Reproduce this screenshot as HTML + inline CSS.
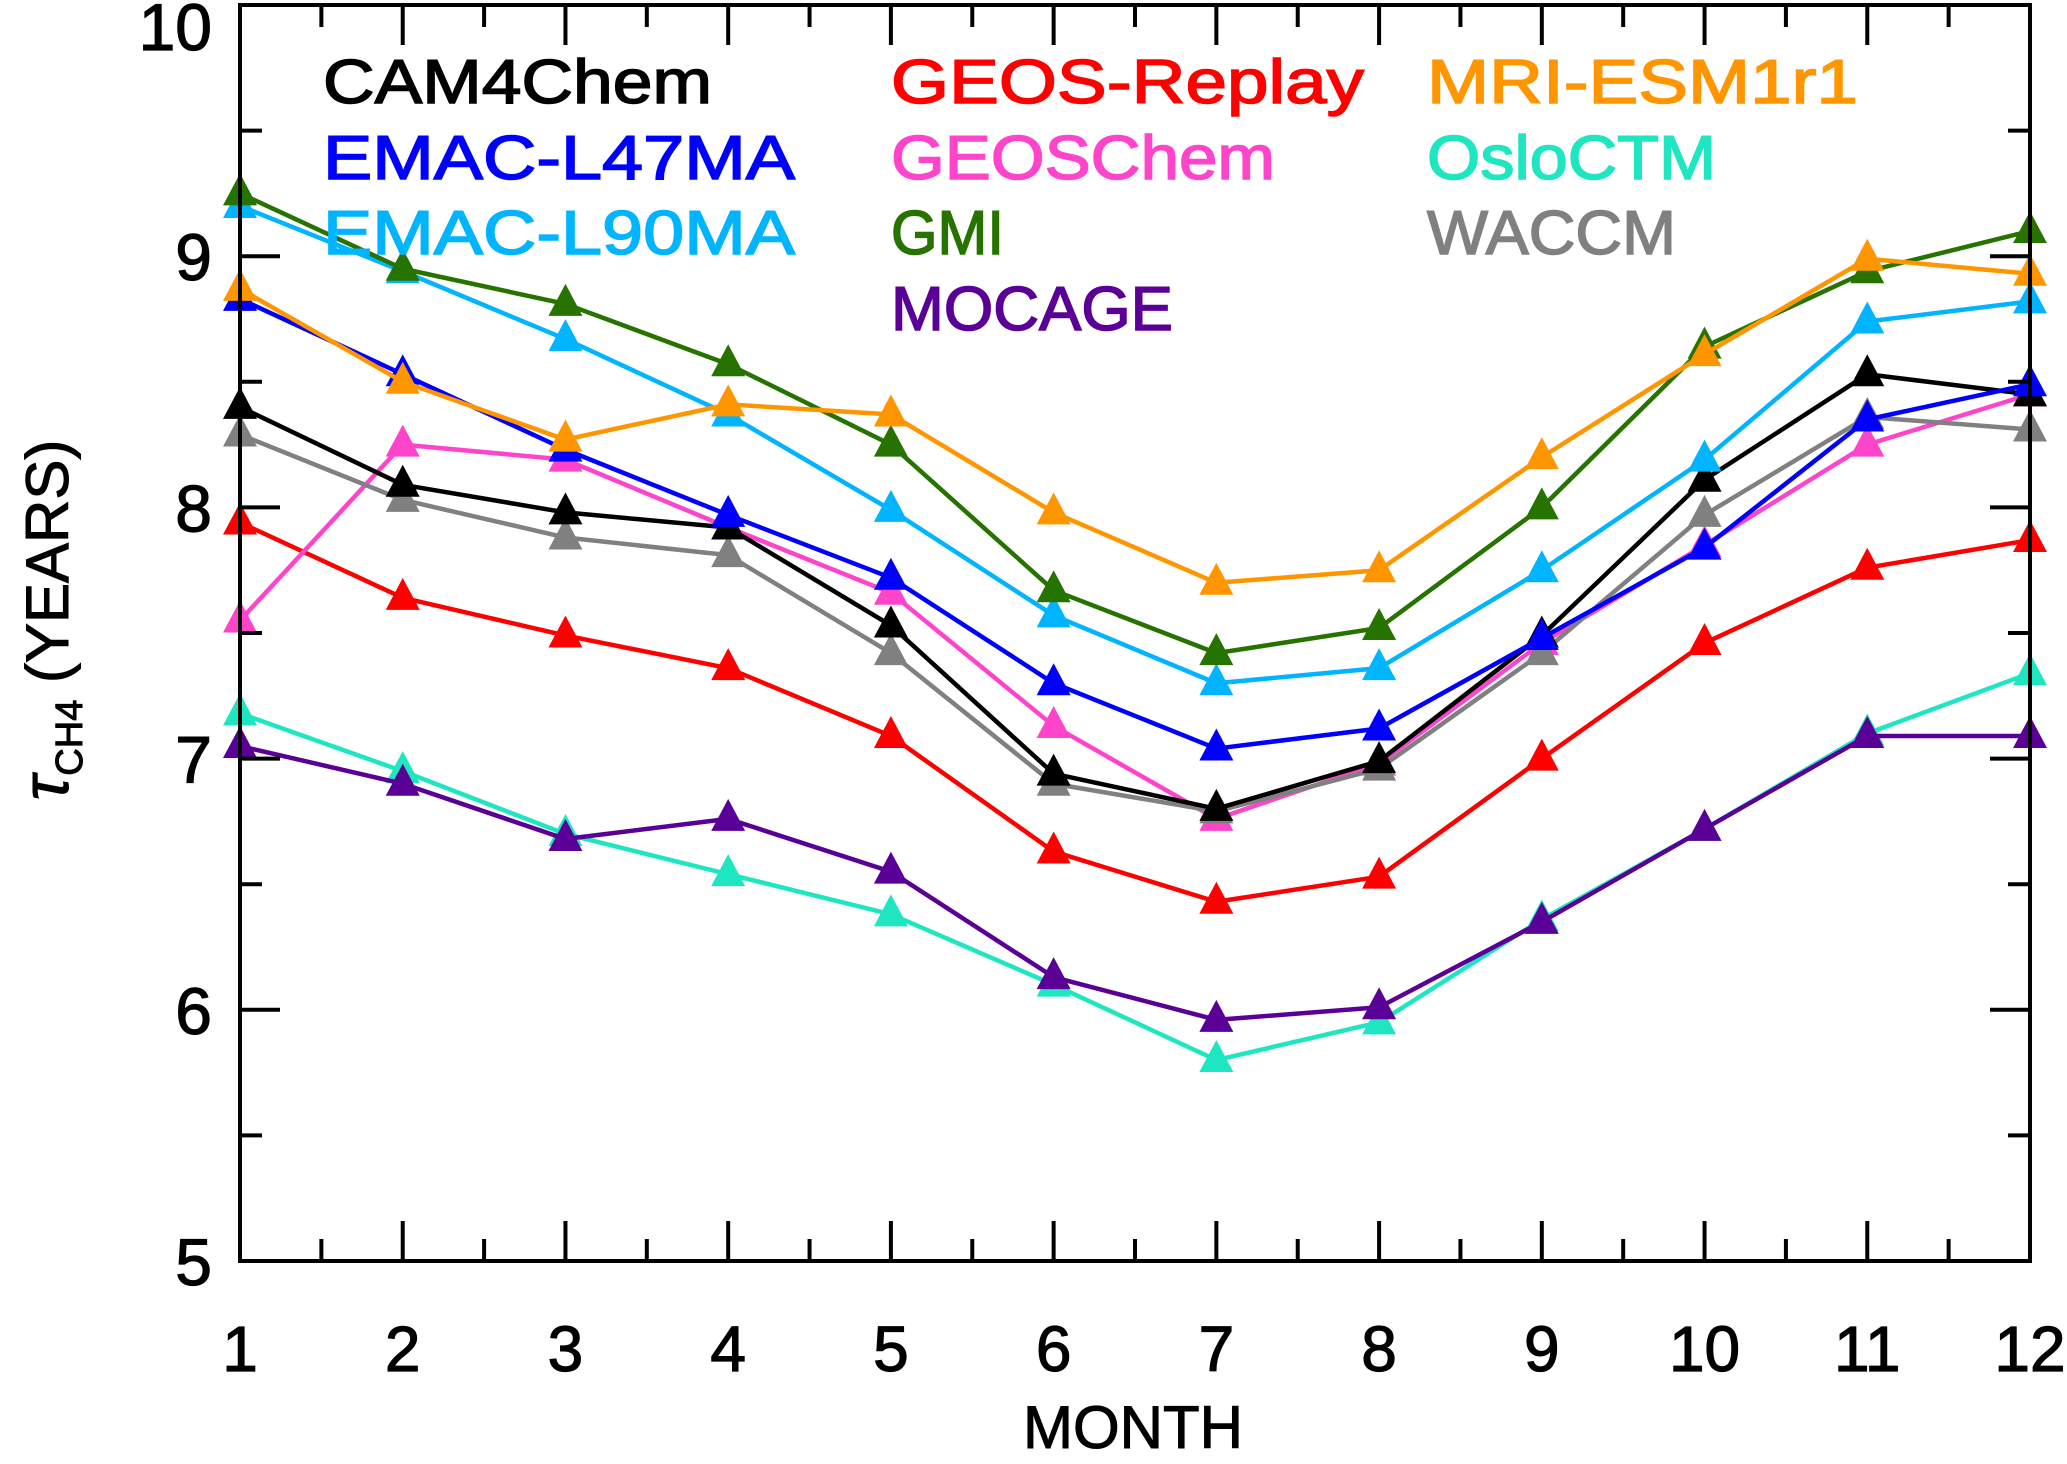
<!DOCTYPE html>
<html><head><meta charset="utf-8"><style>
html,body{margin:0;padding:0;background:#fff;}
svg text{font-family:"Liberation Sans",sans-serif;}
</style></head><body>
<svg id="chart" width="2067" height="1459" viewBox="0 0 2067 1459" xmlns="http://www.w3.org/2000/svg">
<g id="plot"></g>
<g id="axes"></g>
<g id="legend"></g>
</svg>
<script>
const months = [1,2,3,4,5,6,7,8,9,10,11,12];
const yTicks = [5,6,7,8,9,10];
const seriesNames = ["CAM4Chem","EMAC-L47MA","EMAC-L90MA","GEOS-Replay","GEOSChem","GMI","MOCAGE","MRI-ESM1r1","OsloCTM","WACCM"];
const colors = ["#000000","#0000ff","#00b4ff","#ff0000","#ff44cc","#267300","#5a0096","#ff9600","#1ee6c0","#808080"];
const cam4chem = [8.40,8.09,7.98,7.92,7.53,6.94,6.80,6.99,7.49,8.11,8.53,8.45];
const emacL47 = [8.83,8.53,8.23,7.97,7.72,7.30,7.04,7.12,7.48,7.84,8.35,8.49];
const emacL90 = [9.20,8.94,8.67,8.37,7.99,7.57,7.30,7.36,7.75,8.19,8.74,8.82];
const geosReplay = [7.94,7.64,7.49,7.36,7.09,6.63,6.43,6.53,7.00,7.46,7.76,7.87];
const geosChem = [7.55,8.25,8.19,7.92,7.66,7.13,6.76,6.98,7.46,7.85,8.25,8.45];
const gmi = [9.25,8.95,8.81,8.57,8.25,7.67,7.42,7.52,8.00,8.64,8.94,9.10];
const mocage = [7.05,6.90,6.68,6.76,6.55,6.13,5.96,6.01,6.35,6.72,7.09,7.09];
const mri = [8.87,8.50,8.27,8.41,8.37,7.98,7.70,7.75,8.20,8.61,8.99,8.93];
const oslo = [7.18,6.95,6.70,6.54,6.38,6.10,5.80,5.95,6.36,6.72,7.10,7.34];
const waccm = [8.29,8.03,7.88,7.81,7.42,6.90,6.79,6.96,7.42,7.97,8.36,8.31];
const seriesValues = [cam4chem,emacL47,emacL90,geosReplay,geosChem,gmi,mocage,mri,oslo,waccm];
const drawOrder = [8,6,3,4,9,0,1,2,5,7];

const L=240,R=2030,T=5,B=1261;
const xs = m => L + (m-1)*(R-L)/11;
const ys = v => B - (v-5)*(B-T)/5;
const NS="http://www.w3.org/2000/svg";
function mk(tag, attrs, parent){const e=document.createElementNS(NS,tag);for(const k in attrs)e.setAttribute(k,attrs[k]);parent.appendChild(e);return e;}
const plot=document.getElementById('plot'), axes=document.getElementById('axes'), legend=document.getElementById('legend');

drawOrder.forEach(i=>{
  const vals=seriesValues[i];
  const g=mk('g',{},plot);
  
  
  const pts=vals.map((v,j)=>xs(months[j])+','+ys(v)).join(' ');
  const pl=mk('polyline',{points:pts,fill:'none',stroke:colors[i],'stroke-width':4.5,'stroke-linejoin':'round'},g);
  
  
  vals.forEach((v,j)=>{
    const x=xs(months[j]), y=ys(v), s=17;
    const p=mk('polygon',{points:`${x-s},${y+12} ${x+s},${y+12} ${x},${y-20}`,fill:colors[i]},g);
    
    
  });
});

const fr=mk('rect',{x:L,y:T,width:R-L,height:B-T,fill:'none',stroke:'#000','stroke-width':4},axes);


for(let m=1;m<=12;m+=0.5){
  const x=xs(m), len=(m%1===0)?40:22;
  mk('line',{x1:x,y1:B,x2:x,y2:B-len,stroke:'#000','stroke-width':4},axes);
  mk('line',{x1:x,y1:T,x2:x,y2:T+len,stroke:'#000','stroke-width':4},axes);
}
months.forEach(m=>{
  const t=mk('text',{x:xs(m),y:1371,'font-size':64,'text-anchor':'middle',stroke:'#000','stroke-width':1.2},axes);
  t.textContent=m;
  
  
});
for(let v=5;v<=10;v+=0.5){
  const y=ys(v), len=(v%1===0)?40:22;
  mk('line',{x1:L,y1:y,x2:L+len,y2:y,stroke:'#000','stroke-width':4},axes);
  mk('line',{x1:R,y1:y,x2:R-len,y2:y,stroke:'#000','stroke-width':4},axes);
}
yTicks.forEach(v=>{
  const yy = v===10 ? 50 : ys(v)+24;
  const t=mk('text',{x:212,y:yy,'font-size':66,'text-anchor':'end',stroke:'#000','stroke-width':1.2},axes);
  t.textContent=v;
  
  
});
const xt=mk('text',{x:1133,y:1448,'font-size':60,'text-anchor':'middle',stroke:'#000','stroke-width':1},axes);
xt.textContent='MONTH';


const yt=mk('text',{x:0,y:0,'font-size':60,'text-anchor':'middle',stroke:'#000','stroke-width':1,transform:'translate(68,620) rotate(-90)'},axes);


yt.innerHTML='<tspan font-style="italic" font-size="66">τ</tspan><tspan font-size="38" dy="14">CH4</tspan><tspan dy="-14"> (YEARS)</tspan>';

const legPos=[[323,103,389],[323,179,472],[323,254,472],[891,103,473],[891,179,384],[891,254,113],[891,330,282],[1427,103,431],[1427,179,289],[1427,254,249]];
seriesNames.forEach((n,i)=>{
  const [x,y,w]=legPos[i];
  const t=mk('text',{x:x,y:y,'font-size':62,fill:colors[i],stroke:colors[i],'stroke-width':1.5,textLength:w,lengthAdjust:'spacingAndGlyphs'},legend);
  t.textContent=n;
  
  
});
</script>
</body></html>
